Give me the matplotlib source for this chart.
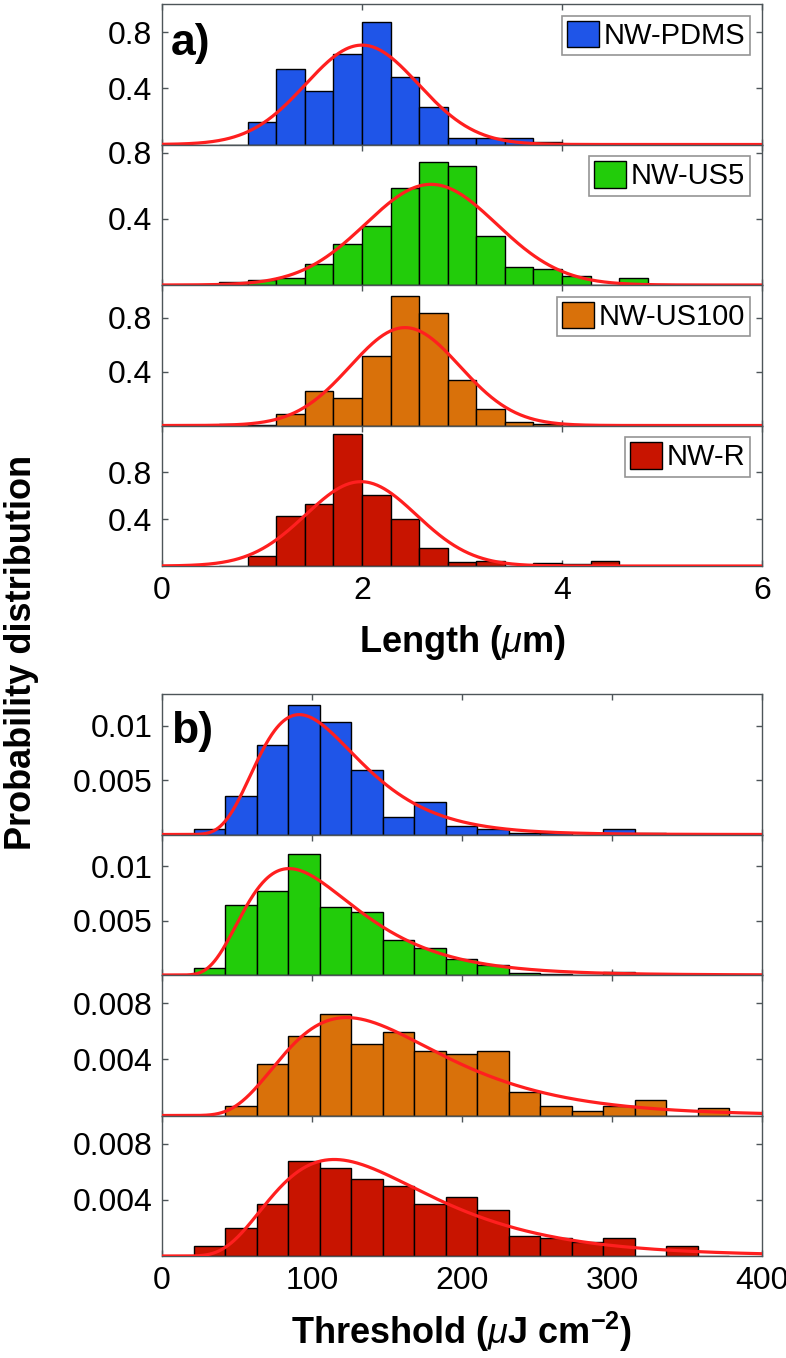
import numpy as np
import matplotlib
matplotlib.use("Agg")
import matplotlib.pyplot as plt

plt.rcParams['font.family'] = ['Liberation Sans', 'DejaVu Sans']
plt.rcParams['mathtext.fontset'] = 'custom'
plt.rcParams['mathtext.rm'] = 'Liberation Sans'
plt.rcParams['mathtext.it'] = 'Liberation Sans:italic'
plt.rcParams['mathtext.bf'] = 'Liberation Sans:bold'

samples = ["NW-PDMS", "NW-US5", "NW-US100", "NW-R"]
bar_colors = ["#1f55e8", "#22cc0a", "#d9710a", "#c81400"]

# a) nanowire length, bins of 2/7 um
length_edges = [0.571, 0.857, 1.143, 1.429, 1.714, 2.0, 2.286, 2.571,
                2.857, 3.143, 3.429, 3.714, 4.0, 4.286, 4.571, 4.857]
length_pdms = [0, 0.163, 0.539, 0.378, 0.647, 0.874, 0.479, 0.268,
               0.048, 0.048, 0.048, 0.019, 0, 0, 0]
length_us5 = [0.016, 0.031, 0.041, 0.129, 0.246, 0.359, 0.585, 0.742,
              0.722, 0.297, 0.107, 0.096, 0.057, 0, 0.041]
length_us100 = [0.0125, 0.005, 0.0875, 0.2575, 0.2075, 0.52, 0.965, 0.84,
                0.34, 0.12, 0.025, 0.0125, 0, 0, 0]
length_r = [0, 0.083, 0.426, 0.529, 1.129, 0.606, 0.4, 0.154,
            0.034, 0.04, 0, 0.026, 0.014, 0.04, 0]
# normal fits (mean, sigma)
length_fits = [(2.00, 0.564), (2.69, 0.655), (2.43, 0.548), (1.99, 0.554)]
length_ylim = [1.0, 0.85, 1.045, 1.2]

# b) lasing threshold, bins of 21 uJ/cm2
threshold_edges = [0, 21, 42, 63, 84, 105, 126, 147, 168, 189, 210,
                   231, 252, 273, 294, 315, 336, 357, 378]
threshold_pdms = [0, 0.00046, 0.00354, 0.00825, 0.01185, 0.01037, 0.0059,
                  0.00163, 0.00298, 0.00077, 0.00046, 0.00015, 0.0001, 0,
                  0.00046, 0.00015, 0, 0]
threshold_us5 = [0, 0.00068, 0.0064, 0.00772, 0.01108, 0.00625, 0.00575,
                 0.0032, 0.00252, 0.00145, 0.00089, 0.0002, 0.0001, 0,
                 0.0003, 0, 0, 0]
threshold_us100 = [0, 0, 0.00066, 0.00365, 0.00563, 0.0072, 0.00509,
                   0.00594, 0.00459, 0.00436, 0.00459, 0.0017, 0.00066,
                   0.00033, 0.00066, 0.00107, 0, 0.00054]
threshold_r = [0, 0.00071, 0.002, 0.00373, 0.00674, 0.00629, 0.00551,
               0.00499, 0.00373, 0.00423, 0.00328, 0.00142, 0.00126,
               0.00102, 0.00126, 0, 0.00071, 0]
# lognormal fits (mu, sigma of ln x)
threshold_fits = [(4.653, 0.37), (4.631, 0.438), (4.993, 0.425), (4.951, 0.456)]
threshold_ylim = [0.0129, 0.0129, 0.01, 0.01]

W, H = 786, 1358
fig = plt.figure(figsize=(W / 100, H / 100), dpi=100)

AX_L, AX_R = 162, 762
frame_col = "#4d5559"


def px_axes(top, bottom):
    return [AX_L / W, 1 - bottom / H, (AX_R - AX_L) / W, (bottom - top) / H]


def normal_pdf(x, m, s):
    return np.exp(-0.5 * ((x - m) / s) ** 2) / (s * np.sqrt(2 * np.pi))


def lognormal_pdf(x, m, s):
    out = np.zeros_like(x)
    pos = x > 0
    out[pos] = np.exp(-0.5 * ((np.log(x[pos]) - m) / s) ** 2) / (x[pos] * s * np.sqrt(2 * np.pi))
    return out


def style_axis(ax, xlim, xticks, ylim, yticks, ylabels, show_x):
    ax.set_xlim(*xlim)
    ax.set_ylim(0, ylim)
    ax.set_xticks(xticks)
    ax.set_yticks(yticks)
    ax.set_yticklabels(ylabels)
    ax.tick_params(direction="in", top=True, right=True, length=4.5, width=1,
                   color=frame_col, labelsize=23, pad=7, labelbottom=show_x)
    for sp in ax.spines.values():
        sp.set_color(frame_col)
        sp.set_linewidth(1)


# panel a
len_series = [length_pdms, length_us5, length_us100, length_r]
top, row_h = 4, 140.5
xa = np.linspace(0, 6, 500)
for i in range(4):
    ax = fig.add_axes(px_axes(top + i * row_h, top + (i + 1) * row_h))
    heights = len_series[i]
    ax.bar(length_edges[:-1], heights, width=np.diff(length_edges), align="edge",
           color=bar_colors[i], edgecolor="black", linewidth=1, label=samples[i], zorder=2)
    m, s = length_fits[i]
    ax.plot(xa, normal_pdf(xa, m, s), color="#ff1f1f", lw=2.3, zorder=3)
    style_axis(ax, (0, 6), [0, 2, 4, 6], length_ylim[i], [0.4, 0.8], ["0.4", "0.8"], i == 3)
    leg = ax.legend(loc="upper right", fontsize=21, frameon=True, fancybox=False,
                    handlelength=1.1, handleheight=1.0, handletextpad=0.15,
                    borderpad=0.18, borderaxespad=0.4)
    leg.get_frame().set_edgecolor("#7a7a7a")
    leg.get_frame().set_linewidth(1.2)
    if i == 0:
        ax.text(0.015, 0.72, "a)", transform=ax.transAxes, fontsize=32,
                fontweight="bold", va="center", ha="left")

# panel b
thr_series = [threshold_pdms, threshold_us5, threshold_us100, threshold_r]
top = 694
xb = np.linspace(0, 400, 800)
for i in range(4):
    ax = fig.add_axes(px_axes(top + i * row_h, top + (i + 1) * row_h))
    ax.bar(threshold_edges[:-1], thr_series[i], width=np.diff(threshold_edges), align="edge",
           color=bar_colors[i], edgecolor="black", linewidth=1, zorder=2)
    m, s = threshold_fits[i]
    ax.plot(xb, lognormal_pdf(xb, m, s), color="#ff1f1f", lw=2.3, zorder=3)
    if i < 2:
        yt, yl = [0.005, 0.01], ["0.005", "0.01"]
    else:
        yt, yl = [0.004, 0.008], ["0.004", "0.008"]
    style_axis(ax, (0, 400), [0, 100, 200, 300, 400], threshold_ylim[i], yt, yl, i == 3)
    if i == 0:
        ax.text(0.015, 0.73, "b)", transform=ax.transAxes, fontsize=32,
                fontweight="bold", va="center", ha="left")

xc = (AX_L + AX_R) / 2 / W
fig.text(xc, 1 - 642 / H, r"Length ($\mu$m)", fontsize=26, fontweight="bold",
         ha="center", va="center")
fig.text(xc, 1 - 1332 / H, r"Threshold ($\mu$J cm$^{\mathbf{-2}}$)", fontsize=26,
         fontweight="bold", ha="center", va="center")
fig.text(22 / W, 1 - 652 / H, "Probability distribution", fontsize=26,
         fontweight="bold", rotation=90, ha="center", va="center")

fig.savefig("out.png", dpi=100)
